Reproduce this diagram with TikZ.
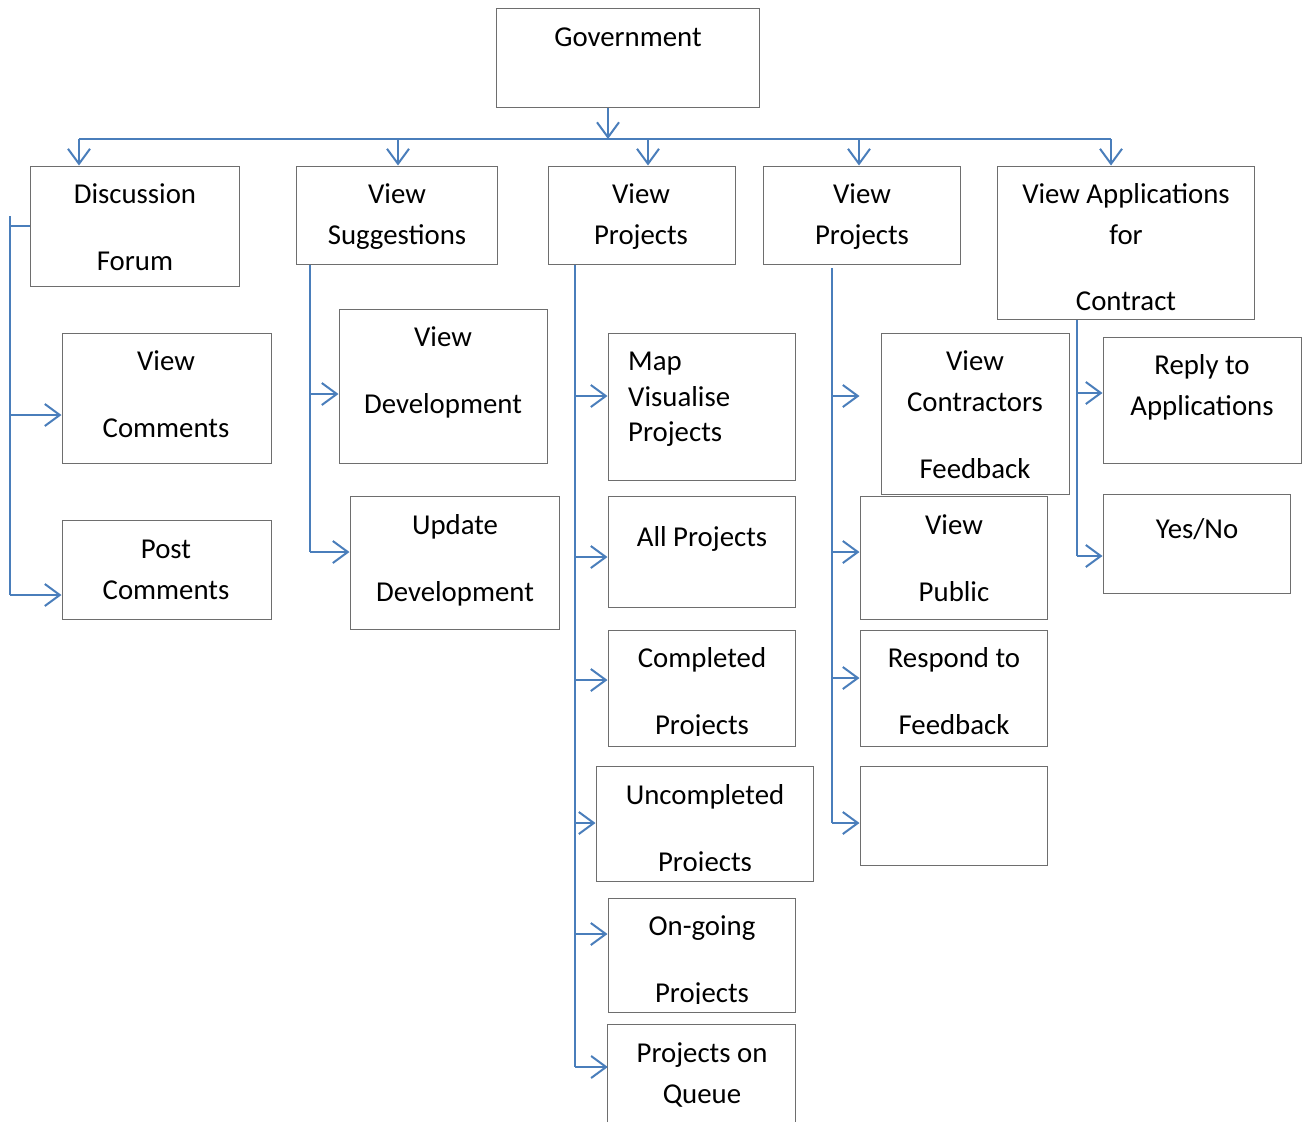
\documentclass[tikz,border=0pt]{standalone}
\usepackage{fontspec}
\setmainfont{Carlito}
\usetikzlibrary{arrows.meta}
\definecolor{linkblue}{HTML}{4A7EBB}
\definecolor{boxgray}{HTML}{6E6E6E}
\begin{document}
\begin{tikzpicture}[x=1pt,y=-1pt,
  box/.style={draw=boxgray,line width=1pt,inner sep=0pt,rectangle},
  lbl/.style={inner sep=0pt,anchor=base,font=\fontsize{28.8}{34}\selectfont},
  lbll/.style={lbl,anchor=base west},
  wire/.style={draw=linkblue,line width=2pt},
  arr/.style={wire,-{Straight Barb[length=15pt,width=22pt,line width=2pt]}}]
\useasboundingbox (0,0) rectangle (1303,1122);
\fill[white] (0,0) rectangle (1303,1122);

% ---------- boxes ----------
\node[box,minimum width=263pt,minimum height=99pt]  (gov)  at (627.5,57.5) {};
\node[box,minimum width=209pt,minimum height=120pt] (df)   at (134.5,226) {};
\node[box,minimum width=201pt,minimum height=98pt]  (vs)   at (396.5,215) {};
\node[box,minimum width=187pt,minimum height=98pt]  (vpa)  at (641.5,215) {};
\node[box,minimum width=197pt,minimum height=98pt]  (vpb)  at (861.5,215) {};
\node[box,minimum width=257pt,minimum height=153pt] (va)   at (1125.5,242.5) {};
\node[box,minimum width=209pt,minimum height=130pt] (vc)   at (166.5,398) {};
\node[box,minimum width=209pt,minimum height=99pt]  (pc)   at (166.5,569.5) {};
\node[box,minimum width=208pt,minimum height=154pt] (vd)   at (443,386) {};
\node[box,minimum width=209pt,minimum height=133pt] (ud)   at (454.5,562.5) {};
\node[box,minimum width=187pt,minimum height=147pt] (map)  at (701.5,406.5) {};
\node[box,minimum width=187pt,minimum height=111pt] (allp) at (701.5,551.5) {};
\node[box,minimum width=187pt,minimum height=116pt] (comp) at (701.5,688) {};
\node[box,minimum width=217pt,minimum height=115pt] (unc)  at (704.5,823.5) {};
\node[box,minimum width=187pt,minimum height=114pt] (ong)  at (701.5,955) {};
\node[inner sep=0pt,minimum width=187pt,minimum height=97pt] (que) at (701.5,1073.5) {};
\draw[boxgray,line width=1pt] (que.south west) -- (que.north west) -- (que.north east) -- (que.south east);
\node[box,minimum width=188pt,minimum height=161pt] (vcf)  at (975,413.5) {};
\node[box,minimum width=187pt,minimum height=123pt] (vpub) at (953.5,557.5) {};
\node[box,minimum width=187pt,minimum height=116pt] (resp) at (953.5,688) {};
\node[box,minimum width=187pt,minimum height=99pt]  (emp)  at (953.5,815.5) {};
\node[box,minimum width=198pt,minimum height=126pt] (rep)  at (1202,400) {};
\node[box,minimum width=187pt,minimum height=99pt]  (yn)   at (1196.5,543.5) {};

% ---------- labels ----------
\node[lbl] (gov-a) at (628,46) {Government};
\node[lbl] (df-a) at (135,203) {Discussion};
\node[lbl] (df-b) at (135,270) {Forum};
\node[lbl] (vs-a) at (397,203) {View};
\node[lbl] (vs-b) at (397,244) {Suggestions};
\node[lbl] (vpa-a) at (641,203) {View};
\node[lbl] (vpa-b) at (641,244) {Projects};
\node[lbl] (vpb-a) at (862,203) {View};
\node[lbl] (vpb-b) at (862,244) {Projects};
\node[lbl] (va-a) at (1126,203) {View Applications};
\node[lbl] (va-b) at (1126,244) {for};
\begin{scope}
  \clip (va.north west) rectangle ([yshift=7pt]va.south east);
  \node[lbl] (va-c) at (1126,310) {Contract};
\end{scope}
\node[lbl] (vc-a) at (166,370) {View};
\node[lbl] (vc-b) at (166,437) {Comments};
\node[lbl] (pc-a) at (166,558) {Post};
\node[lbl] (pc-b) at (166,599) {Comments};
\node[lbl] (vd-a) at (443,346) {View};
\node[lbl] (vd-b) at (443,413) {Development};
\node[lbl] (ud-a) at (455,534) {Update};
\node[lbl] (ud-b) at (455,601) {Development};
\node[lbll] (map-a) at (628,370) {Map};
\node[lbll] (map-b) at (628,406) {Visualise};
\node[lbll] (map-c) at (628,441) {Projects};
\node[lbl] (allp-a) at (702,546) {All Projects};
\node[lbl] (comp-a) at (702,667) {Completed};
\begin{scope}
  \clip (comp.north west) rectangle ([yshift=11pt]comp.south east);
  \node[lbl] (comp-b) at (702,734) {Projects};
\end{scope}
\node[lbl] (unc-a) at (705,804) {Uncompleted};
\begin{scope}
  \clip (unc.north west) rectangle ([yshift=11pt]unc.south east);
  \node[lbl] (unc-b) at (705,871) {Projects};
\end{scope}
\node[lbl] (ong-a) at (702,935) {On-going};
\begin{scope}
  \clip (ong.north west) rectangle ([yshift=9pt]ong.south east);
  \node[lbl] (ong-b) at (702,1002) {Projects};
\end{scope}
\node[lbl] (que-a) at (702,1062) {Projects on};
\node[lbl] (que-b) at (702,1103) {Queue};
\node[lbl] (vcf-a) at (975,370) {View};
\node[lbl] (vcf-b) at (975,411) {Contractors};
\node[lbl] (vcf-c) at (975,478) {Feedback};
\node[lbl] (vpub-a) at (954,534) {View};
\node[lbl] (vpub-b) at (954,601) {Public};
\node[lbl] (resp-a) at (954,667) {Respond to};
\node[lbl] (resp-b) at (954,734) {Feedback};
\node[lbl] (rep-a) at (1202,374) {Reply to};
\node[lbl] (rep-b) at (1202,415) {Applications};
\node[lbl] (yn-a) at (1197,538) {Yes/No};

% ---------- top bus ----------
\coordinate (g0) at (608,139);
\coordinate (b1) at (79,139);
\coordinate (b2) at (398,139);
\coordinate (b3) at (648,139);
\coordinate (b4) at (859,139);
\coordinate (b5) at (1111,139);
\draw[wire] (b1) -- (b5);
\draw[arr] (gov.south -| g0) -- (g0);
\draw[arr] (b1) -- (b1 |- df.north);
\draw[arr] (b2) -- (b2 |- vs.north);
\draw[arr] (b3) -- (b3 |- vpa.north);
\draw[arr] (b4) -- (b4 |- vpb.north);
\draw[arr] (b5) -- (b5 |- va.north);

% ---------- discussion forum branch ----------
\coordinate (d0) at (10,216);
\coordinate (d1) at (10,415);
\coordinate (d2) at (10,595);
\draw[wire] (d0) -- (d2);
\draw[wire] (df.west) -- (df.west -| d0);
\draw[arr] (d1) -- (d1 -| vc.west);
\draw[arr] (d2) -- (d2 -| pc.west);

% ---------- suggestions branch ----------
\coordinate (s1) at (310,394);
\coordinate (s2) at (310,552);
\draw[wire] (vs.south -| s1) -- (s2);
\draw[arr] (s1) -- (s1 -| vd.west);
\draw[arr] (s2) -- (s2 -| ud.west);

% ---------- first projects branch ----------
\coordinate (p1) at (575,396);
\coordinate (p2) at (575,557);
\coordinate (p3) at (575,680);
\coordinate (p4) at (575,823);
\coordinate (p5) at (575,934);
\coordinate (p6) at (575,1067);
\draw[wire] (vpa.south -| p1) -- (p6);
\draw[arr] (p1) -- (p1 -| map.west);
\draw[arr] (p2) -- (p2 -| allp.west);
\draw[arr] (p3) -- (p3 -| comp.west);
\draw[arr] (p4) -- (p4 -| unc.west);
\draw[arr] (p5) -- (p5 -| ong.west);
\draw[arr] (p6) -- (p6 -| que.west);

% ---------- second projects branch ----------
\coordinate (q0) at (832,268);
\coordinate (q1) at (832,396);
\coordinate (q2) at (832,552);
\coordinate (q3) at (832,678);
\coordinate (q4) at (832,823);
\draw[wire] (q0) -- (q4);
\draw[arr] (q1) -- (q1 -| vpub.west);
\draw[arr] (q2) -- (q2 -| vpub.west);
\draw[arr] (q3) -- (q3 -| resp.west);
\draw[arr] (q4) -- (q4 -| emp.west);

% ---------- applications branch ----------
\coordinate (a1) at (1077,393);
\coordinate (a2) at (1077,556);
\draw[wire] (va.south -| a1) -- (a2);
\draw[arr] (a1) -- (a1 -| rep.west);
\draw[arr] (a2) -- (a2 -| yn.west);
\end{tikzpicture}
\end{document}
